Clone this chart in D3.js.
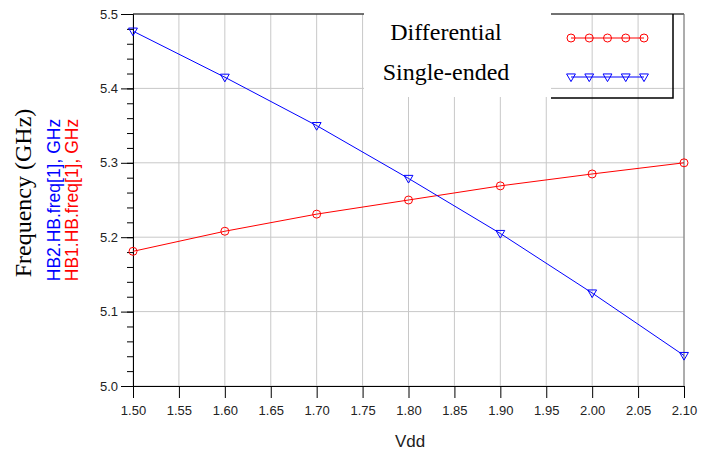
<!DOCTYPE html>
<html>
<head>
<meta charset="utf-8">
<script src="https://cdn.jsdelivr.net/npm/d3@7"></script>
<style>
  body { margin: 0; background: #fff; }
  svg { display: block; }
</style>
</head>
<body>
<script>
// data
const vdd = [1.5, 1.6, 1.7, 1.8, 1.9, 2.0, 2.1];
const differential = [5.181, 5.208, 5.231, 5.250, 5.269, 5.285, 5.300];
const singleEnded = [5.477, 5.415, 5.350, 5.279, 5.205, 5.125, 5.041];
const xTicks = [1.50, 1.55, 1.60, 1.65, 1.70, 1.75, 1.80, 1.85, 1.90, 1.95, 2.00, 2.05, 2.10];
const yTicks = [5.0, 5.1, 5.2, 5.3, 5.4, 5.5];
const yMinor = d3.range(0, 26).map(i => +(5.0 + i * 0.02).toFixed(2));
const seriesNames = ["Differential", "Single-ended"];
const legendDots = [0, 1, 2, 3, 4];

const W = 711, H = 452;
const sans = "'Liberation Sans', Arial, Helvetica, sans-serif";
const serif = "'Liberation Serif', 'Times New Roman', serif";

let x = d3.scaleLinear().domain([1.5, 2.1]).range([133, 684]);
let y = d3.scaleLinear().domain([5.0, 5.5]).range([386, 14]);

let svg = d3.select("body").append("svg")
    .attr("width", W)
    .attr("height", H);

// grid
svg.append("g").selectAll("line").data(xTicks).join("line")
    .attr("x1", d => x(d)).attr("x2", d => x(d))
    .attr("y1", y(5.5)).attr("y2", y(5.0))
    .attr("stroke", "#c8c8c8").attr("stroke-width", 1);
svg.append("g").selectAll("line").data(yTicks).join("line")
    .attr("x1", x(1.5)).attr("x2", x(2.1))
    .attr("y1", d => y(d)).attr("y2", d => y(d))
    .attr("stroke", "#c8c8c8").attr("stroke-width", 1);

// frame top / right
svg.append("line")
    .attr("x1", x(1.5)).attr("x2", x(2.1)).attr("y1", y(5.5)).attr("y2", y(5.5))
    .attr("stroke", "#000");
svg.append("line")
    .attr("x1", x(2.1)).attr("x2", x(2.1)).attr("y1", y(5.5)).attr("y2", y(5.0))
    .attr("stroke", "#777");

// axes
let yAxis = d3.axisLeft(y).tickValues(yTicks).tickFormat(d3.format(".1f"))
    .tickSize(12).tickSizeOuter(0).tickPadding(3);
let yAxisMinor = d3.axisLeft(y).tickValues(yMinor).tickFormat("").tickSize(6).tickSizeOuter(0);
let xAxis = d3.axisBottom(x).tickValues(xTicks).tickFormat(d3.format(".2f"))
    .tickSize(12).tickSizeOuter(0).tickPadding(8);

svg.append("g").attr("transform", "translate(" + x(1.5) + ",0)").call(yAxisMinor);
let gy = svg.append("g").attr("transform", "translate(" + x(1.5) + ",0)").call(yAxis);
let gx = svg.append("g").attr("transform", "translate(0," + y(5.0) + ")").call(xAxis);

svg.selectAll(".tick text")
    .style("font-family", sans).style("font-size", "13px").attr("fill", "#222");
svg.selectAll(".domain, .tick line").attr("stroke", "#000");

// series
let line = d3.line().x((d, i) => x(vdd[i])).y(d => y(d));

svg.append("path").datum(differential)
    .attr("d", line).attr("fill", "none").attr("stroke", "#ff0000").attr("stroke-width", 1);
svg.append("path").datum(singleEnded)
    .attr("d", line).attr("fill", "none").attr("stroke", "#0000ff").attr("stroke-width", 1);

let tri = d3.symbol().type(d3.symbolTriangle).size(34);

svg.append("g").selectAll("circle").data(differential).join("circle")
    .attr("cx", (d, i) => x(vdd[i])).attr("cy", d => y(d)).attr("r", 4)
    .attr("fill", "none").attr("stroke", "#ff0000");
svg.append("g").selectAll("path").data(singleEnded).join("path")
    .attr("d", tri)
    .attr("transform", (d, i) => "translate(" + x(vdd[i]) + "," + (y(d) - 0.5) + ") rotate(180)")
    .attr("fill", "none").attr("stroke", "#0000ff");

// legend
svg.append("rect")
    .attr("x", 364).attr("y", 0).attr("width", 187).attr("height", 97)
    .attr("fill", "#fff");
svg.append("polyline")
    .attr("points", "551,98 673,98 673,14")
    .attr("fill", "none").attr("stroke", "#000").attr("stroke-width", 1.5);

svg.selectAll(".legtext").data(seriesNames).join("text")
    .attr("x", 446).attr("y", (d, i) => 40 + i * 40)
    .attr("text-anchor", "middle")
    .style("font-family", serif).style("font-size", "24px")
    .attr("fill", "#000")
    .text(d => d);

let lx = d3.scaleLinear().domain([0, 4]).range([571, 644]);
svg.append("line").attr("x1", lx(0)).attr("x2", lx(4)).attr("y1", 38).attr("y2", 38)
    .attr("stroke", "#ff0000");
svg.append("g").selectAll("circle").data(legendDots).join("circle")
    .attr("cx", d => lx(d)).attr("cy", 38).attr("r", 4)
    .attr("fill", "none").attr("stroke", "#ff0000");
svg.append("line").attr("x1", lx(0)).attr("x2", lx(4)).attr("y1", 77).attr("y2", 77)
    .attr("stroke", "#0000ff");
svg.append("g").selectAll("path").data(legendDots).join("path")
    .attr("d", tri)
    .attr("transform", d => "translate(" + lx(d) + ",76.5) rotate(180)")
    .attr("fill", "none").attr("stroke", "#0000ff");

// axis titles
svg.append("text")
    .attr("x", 410).attr("y", 447)
    .attr("text-anchor", "middle")
    .style("font-family", sans).style("font-size", "17px")
    .attr("fill", "#222")
    .text("Vdd");

svg.append("text")
    .attr("transform", "translate(31,193) rotate(-90)")
    .attr("text-anchor", "middle")
    .style("font-family", serif).style("font-size", "24px")
    .attr("fill", "#000")
    .text("Frequency (GHz)");

svg.append("text")
    .attr("transform", "translate(60,200) rotate(-90)")
    .attr("text-anchor", "middle")
    .style("font-family", sans).style("font-size", "17.5px")
    .attr("fill", "#0000ff")
    .text("HB2.HB.freq[1], GHz");

svg.append("text")
    .attr("transform", "translate(78,200) rotate(-90)")
    .attr("text-anchor", "middle")
    .style("font-family", sans).style("font-size", "17.5px")
    .attr("fill", "#ff0000")
    .text("HB1.HB.freq[1], GHz");
</script>
</body>
</html>
